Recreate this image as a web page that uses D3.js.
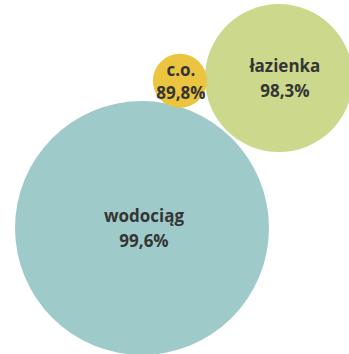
<!DOCTYPE html>
<html><head><meta charset="utf-8">
<script src="https://cdn.jsdelivr.net/npm/d3@7"></script>
<style>html,body{margin:0;padding:0;background:#fff;overflow:hidden}</style>
</head><body>
<svg id="c" width="349" height="354"></svg>
<script>
const categories = ["wodociąg", "łazienka", "c.o."];
const values = [99.6, 98.3, 89.8];
const valueLabels = ["99,6%", "98,3%", "89,8%"];
const colors = ["#9ecbca", "#ccd98c", "#ebc440"];

const W = 349, H = 354;
const svg = d3.select("#c");

// radius scale (piecewise, bubble sizes as drawn)
const r = d3.scaleLinear().domain([89.8, 98.3, 99.6]).range([27, 74, 127]);
const radii = values.map(v => r(v));

// layout: big bubble anchored bottom-left, second tangent at an angle, third tangent to both
const gap = 2, gap2 = -2;
const c0 = {x: 15 + radii[0], y: 355 - radii[0]};
const ang = -47.6 * Math.PI / 180;
const d01 = radii[0] + radii[1] + gap;
const c1 = {x: c0.x + d01 * Math.cos(ang), y: c0.y + d01 * Math.sin(ang)};
// third: intersection of circles around c0 and c1
const a = radii[0] + radii[2] + gap2, b = radii[1] + radii[2] + gap2;
const dx = c1.x - c0.x, dy = c1.y - c0.y, d = Math.hypot(dx, dy);
const l = (a * a - b * b + d * d) / (2 * d);
const h = Math.sqrt(Math.max(0, a * a - l * l));
const ux = dx / d, uy = dy / d;
const c2 = {x: c0.x + l * ux + h * uy, y: c0.y + l * uy - h * ux};
const centers = [c0, c1, c2];

const data = categories.map((c, i) => ({cat: c, v: values[i], lab: valueLabels[i], r: radii[i], x: centers[i].x, y: centers[i].y, col: colors[i]}));

svg.selectAll("circle").data(data).join("circle")
  .attr("cx", d => d.x).attr("cy", d => d.y).attr("r", d => d.r)
  .attr("fill", d => d.col);

const font = "'Open Sans', Lato, sans-serif";
const g = svg.selectAll("g.lab").data(data).join("g").attr("class", "lab")
  .attr("transform", (d, i) => `translate(${d.x + (i === 1 ? 6 : i === 2 ? 1 : 2)},${d.y})`);
g.append("text").attr("text-anchor", "middle").attr("y", (d, i) => i === 2 ? -5 : -6)
  .attr("font-family", font).attr("font-weight", "bold")
  .attr("font-size", 17).attr("fill", "#353535").text(d => d.cat);
g.append("text").attr("text-anchor", "middle").attr("y", (d, i) => i === 2 ? 18 : 19)
  .attr("font-family", font).attr("font-weight", "bold")
  .attr("font-size", 17).attr("fill", "#353535").text(d => d.lab);
</script>
</body></html>
